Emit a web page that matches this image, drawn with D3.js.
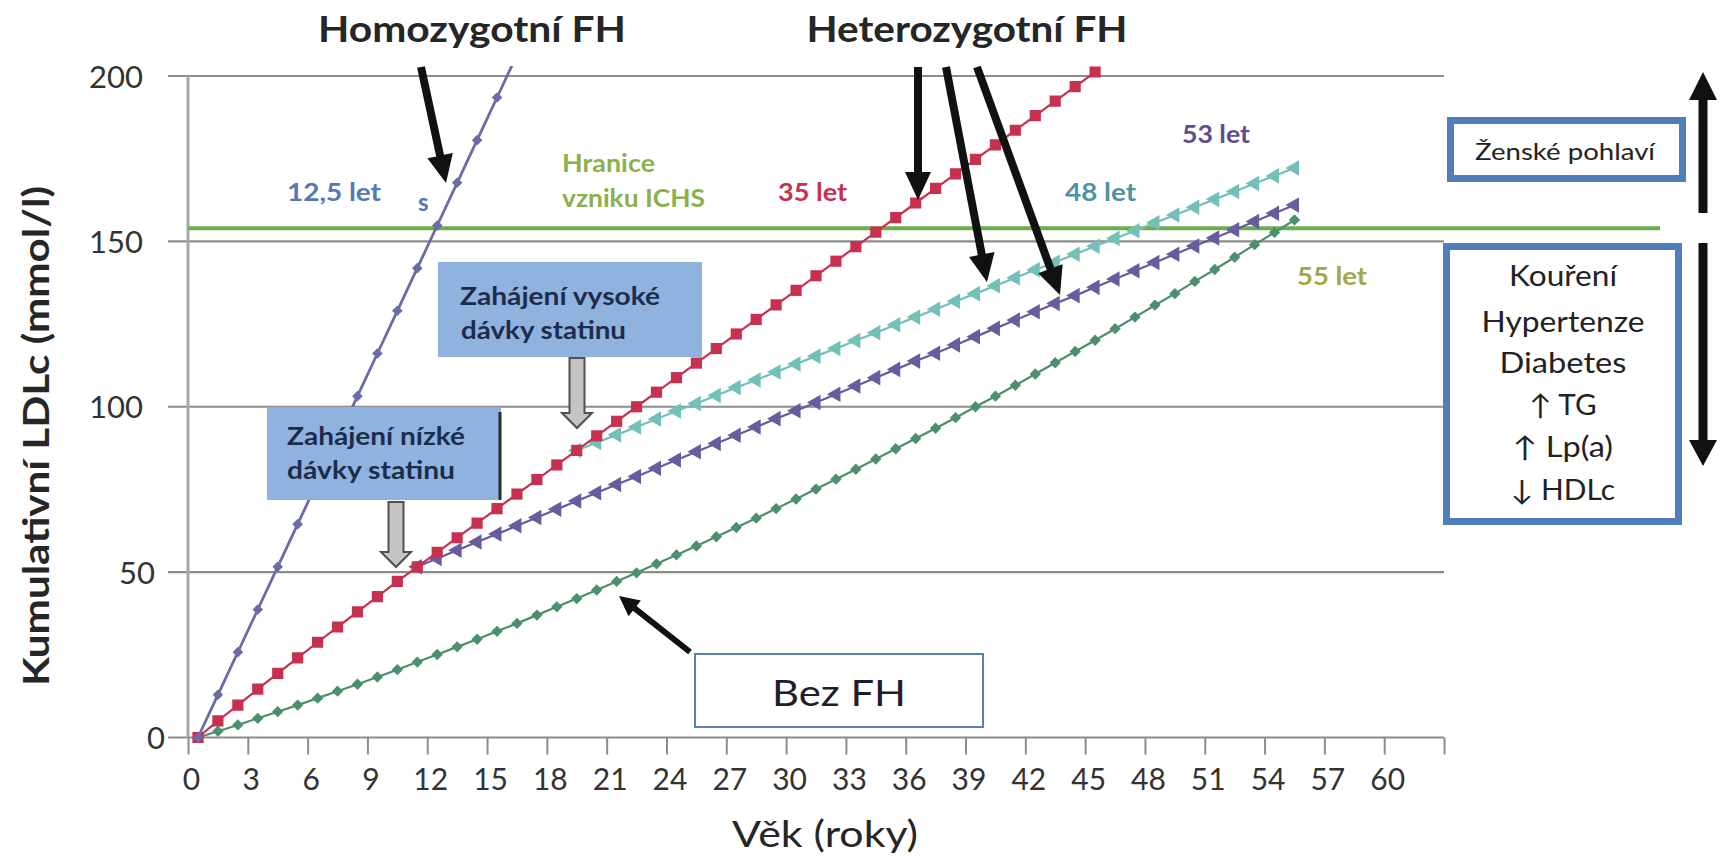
<!DOCTYPE html>
<html><head><meta charset="utf-8">
<script src="https://cdn.jsdelivr.net/npm/d3@7"></script>
<style>
body{margin:0;background:#fff}
svg{display:block;font-family:Lato,"Open Sans","DejaVu Sans",sans-serif}
</style>
</head><body>
<svg id="chart" width="1721" height="860"></svg>
<script>
// ---------------- DATA ----------------
const xTickValues = [0,3,6,9,12,15,18,21,24,27,30,33,36,39,42,45,48,51,54,57,60,63];
const xTickLabels = ["0","3","6","9","12","15","18","21","24","27","30","33","36","39","42","45","48","51","54","57","60",""];
const yTickValues = [0,50,100,150,200];
const thresholdValue = 154;

const homoAges   = [0,1,2,3,4,5,6,7,8,9,10,11,12,13,14,15,16];
const homoValues = [0,12.9,25.8,38.7,51.6,64.5,77.4,90.3,103.2,116.1,129.0,141.9,154.8,167.7,180.6,193.5,206.4];

const heteroAges   = [0,1,2,3,4,5,6,7,8,9,10,11,12,13,14,15,16,17,18,19,20,21,22,23,24,25,26,27,28,29,30,31,32,33,34,35,36,37,38,39,40,41,42,43,44,45];
const heteroValues = [0,5.0,9.8,14.6,19.4,24.1,28.8,33.4,38.0,42.6,47.2,51.6,56.0,60.4,64.8,69.2,73.6,78.0,82.4,86.8,91.2,95.6,100.0,104.4,108.8,113.2,117.6,122.0,126.4,130.8,135.2,139.6,144.0,148.4,152.8,157.2,161.6,166.0,170.4,174.8,179.2,183.6,188.0,192.4,196.8,201.2];

const lowStatinAges   = [11,12,13,14,15,16,17,18,19,20,21,22,23,24,25,26,27,28,29,30,31,32,33,34,35,36,37,38,39,40,41,42,43,44,45,46,47,48,49,50,51,52,53,54,55];
const lowStatinValues = [51.6,54.1,56.6,59.1,61.5,64.0,66.5,69.0,71.5,74.0,76.5,78.9,81.4,83.9,86.4,88.9,91.4,93.9,96.4,98.8,101.3,103.8,106.3,108.8,111.3,113.8,116.2,118.7,121.2,123.7,126.2,128.7,131.2,133.6,136.1,138.6,141.1,143.6,146.1,148.6,151.0,153.5,156.0,158.5,161.0];

const highStatinAges   = [19,20,21,22,23,24,25,26,27,28,29,30,31,32,33,34,35,36,37,38,39,40,41,42,43,44,45,46,47,48,49,50,51,52,53,54,55];
const highStatinValues = [86.8,89.2,91.5,93.9,96.3,98.7,101.0,103.4,105.8,108.1,110.5,112.9,115.3,117.6,120.0,122.4,124.8,127.1,129.5,131.9,134.2,136.6,139.0,141.4,143.7,146.1,148.5,150.9,153.2,155.6,158.0,160.3,162.7,165.1,167.5,169.8,172.2];

const noFHAges   = [0,1,2,3,4,5,6,7,8,9,10,11,12,13,14,15,16,17,18,19,20,21,22,23,24,25,26,27,28,29,30,31,32,33,34,35,36,37,38,39,40,41,42,43,44,45,46,47,48,49,50,51,52,53,54,55];
const noFHValues = [0,1.9,3.8,5.8,7.8,9.8,11.9,14.0,16.1,18.3,20.5,22.8,25.1,27.4,29.7,32.1,34.5,37.0,39.5,42.0,44.6,47.2,49.8,52.5,55.2,57.9,60.7,63.5,66.3,69.2,72.1,75.1,78.1,81.1,84.2,87.3,90.4,93.5,96.7,100.0,103.2,106.5,109.9,113.3,116.7,120.1,123.6,127.1,130.7,134.2,137.9,141.5,145.2,149.0,152.7,156.5];

const riskFactors = ["Kouření","Hypertenze","Diabetes","↑ TG","↑ Lp(a)","↓ HDLc"];

// ---------------- LAYOUT ----------------
const svg = d3.select("#chart");
const X0 = 188, X1 = 1444, Y0 = 737.5, Y1 = 76;
const x = d3.scaleLinear().domain([0,63]).range([X0,X1]);
const y = d3.scaleLinear().domain([0,200]).range([Y0,Y1]);
const catOffset = 0.5; // Excel category axis: points between tick marks

svg.append("rect").attr("width",1721).attr("height",860).attr("fill","#fff");

// gridlines
svg.append("g").selectAll("line").data(yTickValues).join("line")
  .attr("x1",168).attr("x2",X1)
  .attr("y1",d=>y(d)).attr("y2",d=>y(d))
  .attr("stroke","#8c8c8c").attr("stroke-width",2.2);

// y axis line
svg.append("line").attr("x1",X0).attr("x2",X0).attr("y1",Y1).attr("y2",Y0)
  .attr("stroke","#a8a8a8").attr("stroke-width",3);

// x axis ticks & labels
const xAxisG = svg.append("g").attr("transform",`translate(0,${Y0})`)
  .call(d3.axisBottom(x).tickValues(xTickValues).tickSize(17).tickPadding(14)
    .tickFormat((d,i)=>xTickLabels[i]));
xAxisG.select(".domain").remove();
xAxisG.selectAll(".tick line").attr("stroke","#8c8c8c").attr("stroke-width",2);
xAxisG.selectAll(".tick text").attr("font-size",30).attr("fill","#333")
  .attr("font-family","Lato").attr("dx",3);

// y axis labels
const yAxisG = svg.append("g").attr("transform","translate(168,0)")
  .call(d3.axisLeft(y).tickValues(yTickValues).tickSize(0).tickPadding(25));
yAxisG.select(".domain").remove();
yAxisG.selectAll(".tick text").attr("font-size",31).attr("fill","#333")
  .attr("font-family","Lato").attr("dy","0.36em")
  .attr("dx",d=> d===0 ? 22 : (d===50 ? 12 : 0));

// threshold line
svg.append("line").attr("x1",X0).attr("x2",1660)
  .attr("y1",y(thresholdValue)).attr("y2",y(thresholdValue))
  .attr("stroke","#6aaf4e").attr("stroke-width",4);

// clip
svg.append("defs").append("clipPath").attr("id","plot")
  .append("rect").attr("x",X0-10).attr("y",66).attr("width",X1-X0+20).attr("height",Y0-66+20);

const plot = svg.append("g").attr("clip-path","url(#plot)");
const line = d3.line().x(d=>x(d.a+catOffset)).y(d=>y(d.v));
function zip(ages, vals){ return ages.map((a,i)=>({a, v: vals[i]})); }

const series = [
  {data: zip(noFHAges,noFHValues), color:"#4b8f6c", sym:d3.symbolSquare, size:64, rot:45, w:2.2},
  {data: zip(highStatinAges,highStatinValues), color:"#72c0b8", sym:d3.symbolTriangle, size:105, rot:-90, w:2.2},
  {data: zip(lowStatinAges,lowStatinValues), color:"#685c9e", sym:d3.symbolTriangle, size:105, rot:-90, w:2.2},
  {data: zip(heteroAges,heteroValues), color:"#c8304f", sym:d3.symbolSquare, size:125, rot:0, w:2.2},
  {data: zip(homoAges,homoValues), color:"#6b6ba6", sym:d3.symbolSquare, size:56, rot:45, w:2.8}
];
series.forEach(s=>{
  plot.append("path").datum(s.data).attr("d",line)
    .attr("fill","none").attr("stroke",s.color).attr("stroke-width",s.w);
  plot.append("g").selectAll("path").data(s.data).join("path")
    .attr("d",d3.symbol().type(s.sym).size(s.size))
    .attr("transform",d=>`translate(${x(d.a+catOffset)},${y(d.v)}) rotate(${s.rot})`)
    .attr("fill",s.color);
});

// ---------------- TEXT helpers ----------------
function txt(str, px, py, o){
  const t = svg.append("text").attr("x",px).attr("y",py).text(str)
    .attr("font-size",o.size||24).attr("fill",o.fill||"#222")
    .attr("font-weight",o.weight||"normal")
    .attr("text-anchor",o.anchor||"start");
  if(o.len) t.attr("textLength",o.len).attr("lengthAdjust","spacingAndGlyphs");
  if(o.rotate) t.attr("transform",`rotate(${o.rotate},${px},${py})`);
  return t;
}
function arrow(x1,y1,x2,y2,w,hw,hl,fill,stroke,sw){
  const dx=x2-x1, dy=y2-y1, L=Math.hypot(dx,dy), ux=dx/L, uy=dy/L, nx=-uy, ny=ux;
  const bx=x2-ux*hl, by=y2-uy*hl;
  const pts=[[x1+nx*w/2,y1+ny*w/2],[bx+nx*w/2,by+ny*w/2],[bx+nx*hw/2,by+ny*hw/2],[x2,y2],
             [bx-nx*hw/2,by-ny*hw/2],[bx-nx*w/2,by-ny*w/2],[x1-nx*w/2,y1-ny*w/2]];
  svg.append("polygon").attr("points",pts.map(p=>p.join(",")).join(" "))
    .attr("fill",fill).attr("stroke",stroke||"none").attr("stroke-width",sw||0)
    .attr("stroke-linejoin","miter");
}

// titles
txt("Homozygotní FH",472,42,{size:37,weight:"bold",anchor:"middle",len:308,fill:"#262626"});
txt("Heterozygotní FH",967,42,{size:37,weight:"bold",anchor:"middle",len:321,fill:"#262626"});

// axis titles
txt("Věk (roky)",825,847,{size:37,anchor:"middle",len:186,fill:"#262626"});
txt("Kumulativní  LDLc (mmol/l)",49,436,{size:36,weight:"bold",anchor:"middle",len:500,rotate:-90,fill:"#262626"});

// series labels
txt("12,5 let",287,201,{size:24,weight:"bold",fill:"#5577b4",len:94});
txt("s",418,211,{size:24,weight:"bold",fill:"#5577b4"});
txt("Hranice",562,172,{size:24,weight:"bold",fill:"#8cb04c",len:93});
txt("vzniku ICHS",562,207,{size:24,weight:"bold",fill:"#8cb04c",len:143});
txt("35 let",778,201,{size:24,weight:"bold",fill:"#c8304f",len:69});
txt("48 let",1065,201,{size:24,weight:"bold",fill:"#4f93a3",len:71});
txt("53 let",1182,143,{size:24,weight:"bold",fill:"#5e4e8a",len:68});
txt("55 let",1297,285,{size:24,weight:"bold",fill:"#a3a64a",len:70});

// statin boxes
svg.append("rect").attr("x",438).attr("y",262).attr("width",264).attr("height",95).attr("fill","#8fb3de");
txt("Zahájení vysoké",460,305,{size:25,weight:"bold",fill:"#1c2c4c",len:200});
txt("dávky statinu",461,339,{size:25,weight:"bold",fill:"#1c2c4c",len:165});
svg.append("rect").attr("x",267).attr("y",407).attr("width",234).attr("height",93).attr("fill","#8fb3de");
svg.append("line").attr("x1",500).attr("x2",500).attr("y1",412).attr("y2",500).attr("stroke","#2a2a2a").attr("stroke-width",3);
txt("Zahájení nízké",287,445,{size:25,weight:"bold",fill:"#1c2c4c",len:178});
txt("dávky statinu",287,479,{size:25,weight:"bold",fill:"#1c2c4c",len:168});

// block arrows
arrow(577,358,577,428,15,30,15,"#c4c4c4","#505050",2);
arrow(396,502,396,567,15,30,15,"#c4c4c4","#505050",2);

// Bez FH box
svg.append("rect").attr("x",695).attr("y",654).attr("width",288).attr("height",73)
  .attr("fill","#fff").attr("stroke","#5b7fb5").attr("stroke-width",2);
txt("Bez  FH",839,706,{size:36,anchor:"middle",fill:"#1e1e2e",len:134});
arrow(690,652,619,596,6,20,20,"#111");

// title arrows
arrow(421,67,446,183,8,26,28,"#111");
arrow(918,67,918,200,8,26,28,"#111");
arrow(946,67,987,282,8,26,28,"#111");
arrow(977,67,1060,295,8,26,28,"#111");

// right boxes
svg.append("rect").attr("x",1450.5).attr("y",120.5).attr("width",232).attr("height",58)
  .attr("fill","#fff").attr("stroke","#4f7ebb").attr("stroke-width",7);
txt("Ženské pohlaví",1565,160,{size:24,anchor:"middle",fill:"#222",len:180});
svg.append("rect").attr("x",1446.5).attr("y",246.5).attr("width",232).attr("height",275)
  .attr("fill","#fff").attr("stroke","#4f7ebb").attr("stroke-width",7);
const rfBase = [286,332,373,415,457,500];
const rfLen = [108,163,127,67,100,104];
riskFactors.forEach((r,i)=>{
  txt(r,1563,rfBase[i],{size:28,anchor:"middle",fill:"#222",len:rfLen[i]});
});

// vertical arrows
arrow(1703,213,1703,72,9,28,28,"#111");
arrow(1703,243,1703,466,9,28,26,"#111");
</script>
</body></html>
